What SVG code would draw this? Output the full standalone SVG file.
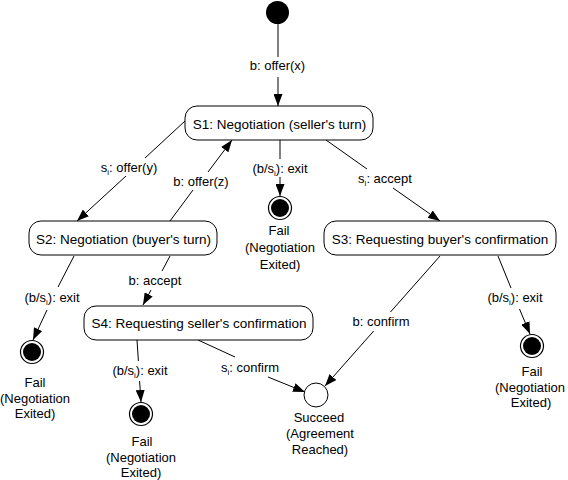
<svg xmlns="http://www.w3.org/2000/svg" width="568" height="480" viewBox="0 0 568 480">
<defs>
<marker id="arr" markerUnits="userSpaceOnUse" markerWidth="12" markerHeight="9" refX="12" refY="4.5" orient="auto">
<path d="M0,0 L12,4.5 L0,9 z" fill="#000"/>
</marker>
<style>
.st rect{fill:#fff;stroke:#000;stroke-width:1}
.nt{font-family:"Liberation Sans",Arial,sans-serif;font-size:13.5px;text-anchor:middle;fill:#000}
.lb{font-family:"Liberation Sans",Arial,sans-serif;font-size:13px;text-anchor:middle;fill:#000}
.sub{font-size:8px}
#edges path{fill:none;stroke:#000;stroke-width:1}
.fo{fill:#fff;stroke:#000;stroke-width:1.2}
.fi{fill:#000}
</style>
</defs>
<rect width="568" height="480" fill="#fff"/>

<g id="edges">
<path d="M278,24 V57"/><path d="M278,77 V106" marker-end="url(#arr)"/>
<path d="M185,121 L145,158"/><path d="M126,176 L77,221" marker-end="url(#arr)"/>
<path d="M170,221 L193,190"/><path d="M208,172 L232,140" marker-end="url(#arr)"/>
<path d="M280,140 V159"/><path d="M280,177 V196" marker-end="url(#arr)"/>
<path d="M326,140 L367,169"/><path d="M393,188 L440,221" marker-end="url(#arr)"/>
<path d="M74,256 L58,287"/><path d="M47,310 L33,340" marker-end="url(#arr)"/>
<path d="M170,256 L162,271"/><path d="M151,290 L143,305" marker-end="url(#arr)"/>
<path d="M137,340 L138.4,361"/><path d="M139.6,381 L141,402" marker-end="url(#arr)"/>
<path d="M198,340 L235,357"/><path d="M268,377 L305,392" marker-end="url(#arr)"/>
<path d="M440,256 L390.5,312"/><path d="M373.7,331 L325,386" marker-end="url(#arr)"/>
<path d="M498,256 L511,288"/><path d="M519.5,309 L530,334" marker-end="url(#arr)"/>
<text class="lb" x="277.5" y="70">b: offer(x)</text>
<text class="lb" x="129" y="172">s<tspan class="sub" dy="3">i</tspan><tspan dy="-3">: offer(y)</tspan></text>
<text class="lb" x="201" y="186">b: offer(z)</text>
<text class="lb" x="280" y="173">(b/s<tspan class="sub" dy="3">i</tspan><tspan dy="-3">): exit</tspan></text>
<text class="lb" x="385" y="183">s<tspan class="sub" dy="3">i</tspan><tspan dy="-3">: accept</tspan></text>
<text class="lb" x="52" y="302">(b/s<tspan class="sub" dy="3">i</tspan><tspan dy="-3">): exit</tspan></text>
<text class="lb" x="155" y="285">b: accept</text>
<text class="lb" x="140" y="375">(b/s<tspan class="sub" dy="3">i</tspan><tspan dy="-3">): exit</tspan></text>
<text class="lb" x="250" y="372">s<tspan class="sub" dy="3">i</tspan><tspan dy="-3">: confirm</tspan></text>
<text class="lb" x="381" y="326">b: confirm</text>
<text class="lb" x="515" y="302">(b/s<tspan class="sub" dy="3">i</tspan><tspan dy="-3">): exit</tspan></text>
</g>

<g id="initial"><circle cx="277.5" cy="12.5" r="11.5" fill="#000"/></g>

<g id="S1" class="st"><rect x="185" y="106" width="188" height="34" rx="12"/><text class="nt" x="279.5" y="129">S1: Negotiation (seller's turn)</text></g>
<g id="S2" class="st"><rect x="29" y="221" width="188" height="34" rx="12"/><text class="nt" x="123.5" y="244">S2: Negotiation (buyer's turn)</text></g>
<g id="S3" class="st"><rect x="324" y="221" width="232" height="34" rx="12"/><text class="nt" x="440" y="244">S3: Requesting buyer's confirmation</text></g>
<g id="S4" class="st"><rect x="84" y="306" width="229" height="34" rx="12"/><text class="nt" x="199" y="328">S4: Requesting seller's confirmation</text></g>

<g id="fail1"><circle class="fo" cx="280" cy="208" r="11.5"/><circle class="fi" cx="280" cy="208" r="9"/>
<text class="lb" x="279" y="235">Fail</text><text class="lb" x="280" y="252">(Negotiation</text><text class="lb" x="280" y="269">Exited)</text></g>
<g id="fail2"><circle class="fo" cx="32" cy="352" r="11.5"/><circle class="fi" cx="32" cy="352" r="9"/>
<text class="lb" x="35" y="387">Fail</text><text class="lb" x="35" y="403">(Negotiation</text><text class="lb" x="35" y="418">Exited)</text></g>
<g id="fail3"><circle class="fo" cx="141" cy="414" r="11.5"/><circle class="fi" cx="141" cy="414" r="9"/>
<text class="lb" x="142" y="446">Fail</text><text class="lb" x="141" y="462">(Negotiation</text><text class="lb" x="141" y="477">Exited)</text></g>
<g id="fail4"><circle class="fo" cx="532" cy="346" r="11.5"/><circle class="fi" cx="532" cy="346" r="9"/>
<text class="lb" x="532" y="376">Fail</text><text class="lb" x="530" y="392">(Negotiation</text><text class="lb" x="531" y="407">Exited)</text></g>
<g id="succeed"><circle cx="316" cy="395" r="12" fill="#fff" stroke="#000" stroke-width="1"/>
<text class="lb" x="319" y="422">Succeed</text><text class="lb" x="320" y="438">(Agreement</text><text class="lb" x="320" y="454">Reached)</text></g>
</svg>
